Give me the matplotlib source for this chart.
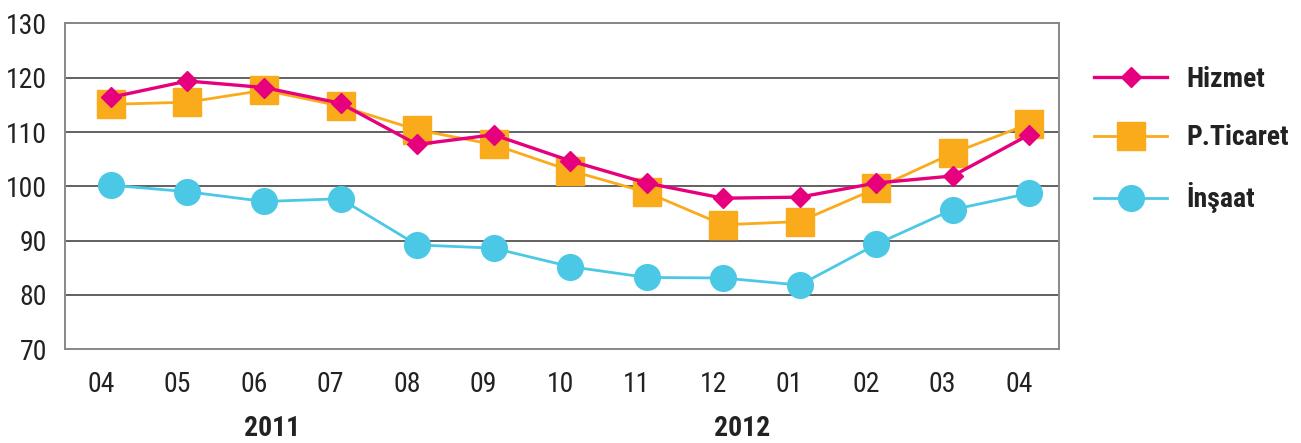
import matplotlib
matplotlib.use("Agg")
import matplotlib.pyplot as plt
from matplotlib.transforms import ScaledTranslation, blended_transform_factory

# Aylar (04/2011 - 04/2012)
months = ["04", "05", "06", "07", "08", "09", "10", "11", "12", "01", "02", "03", "04"]
hizmet = [116.4, 119.4, 118.2, 115.3, 107.7, 109.5, 104.7, 100.6, 97.8, 98.0, 100.6, 101.9, 109.5]
ticaret = [115.1, 115.5, 117.7, 114.8, 110.4, 107.7, 102.9, 98.9, 92.9, 93.5, 99.6, 106.1, 111.5]
insaat = [100.2, 99.0, 97.2, 97.7, 89.2, 88.6, 85.2, 83.2, 83.1, 81.8, 89.3, 95.7, 98.7]
years = ["2011", "2012"]
year_pos = [2.1, 8.25]

fonts = ["Roboto Condensed", "DejaVu Sans"]
plt.rcParams["font.family"] = fonts

fig = plt.figure(figsize=(13.01, 4.43), dpi=100)
ax = fig.add_axes([0.05, 0.212, 0.764, 0.735])

x = list(range(len(months)))
ax.plot(x, insaat, color="#4BC8E6", lw=2.0, marker="o", ms=18.5, label="İnşaat", zorder=3)
ax.plot(x, ticaret, color="#F9AB1B", lw=2.0, marker="s", ms=20.5, label="P.Ticaret", zorder=4)
ax.plot(x, hizmet, color="#E6007E", lw=2.4, marker="D", ms=10, label="Hizmet", zorder=5)

ax.set_ylim(70, 130)
ax.set_xlim(-0.6, 12.39)
ax.set_yticks(range(70, 131, 10))
ax.set_xticks(x)
ax.set_xticklabels(months)
ax.tick_params(length=0, labelsize=20, colors="#222222")
ax.tick_params(axis="y", pad=13)
ax.tick_params(axis="x", pad=16)
for lab in ax.get_xticklabels():
    lab.set_transform(lab.get_transform() + ScaledTranslation(-0.1, 0, fig.dpi_scale_trans))

ax.grid(axis="y", color="#555555", lw=1.3)
ax.set_axisbelow(True)
for s in ax.spines.values():
    s.set_color("#888888")
    s.set_linewidth(1.4)

trans = blended_transform_factory(ax.transData, fig.transFigure)
for yr, p in zip(years, year_pos):
    ax.text(p, 0.033, yr, transform=trans, ha="center", va="center",
            fontsize=20, fontweight="bold", color="#222222")

handles, labels = ax.get_legend_handles_labels()
leg = fig.legend(handles[::-1], labels[::-1], loc="upper left", bbox_to_anchor=(0.822, 0.907),
                 frameon=False, handlelength=2.6, labelspacing=1.12, handletextpad=0.7,
                 prop={"family": fonts, "size": 20, "weight": "bold"})
for t in leg.get_texts():
    t.set_color("#222222")

fig.savefig("out.png", dpi=100)
